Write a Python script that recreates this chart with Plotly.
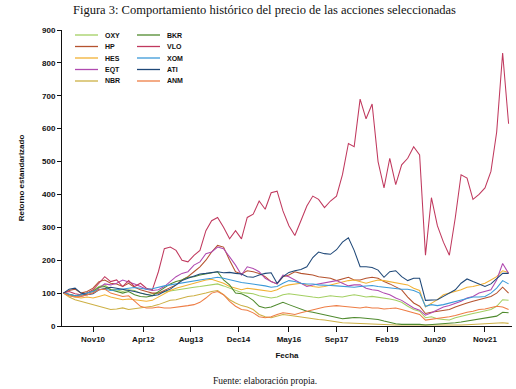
import pandas as pd
import plotly.graph_objects as go

# bimonthly observation dates, Jan 2010 .. Jul 2022
dates = pd.date_range("2010-01-01", periods=76, freq="2MS")

OXY = [100, 95, 90, 92, 100, 108, 120, 125, 112, 110, 105, 110, 108, 100, 95, 98, 100, 105, 108, 110,
       112, 115, 118, 120, 122, 125, 128, 122, 115, 108, 102, 100, 98, 92, 88, 85, 88, 95, 98, 95,
       92, 90, 88, 86, 88, 92, 90, 88, 92, 95, 92, 88, 90, 88, 85, 82, 78, 72, 60, 50,
       45, 25, 28, 22, 20, 18, 25, 30, 35, 38, 42, 45, 50, 60, 80, 78]
HP = [100, 108, 112, 100, 105, 115, 135, 140, 130, 128, 120, 130, 118, 110, 105, 100, 100, 108, 118, 125,
      140, 150, 165, 180, 200, 225, 245, 240, 200, 165, 158, 168, 165, 160, 150, 135, 128, 150, 155, 165,
      160, 158, 155, 150, 148, 145, 138, 142, 148, 140, 140, 145, 148, 145, 135, 128, 120, 110, 88, 70,
      60, 38, 42, 45, 48, 50, 58, 65, 70, 75, 80, 85, 90, 100, 118, 100]
HES = [100, 92, 88, 85, 88, 85, 90, 95, 88, 85, 80, 82, 80, 78, 75, 78, 88, 100, 108, 115,
       120, 125, 130, 135, 140, 142, 135, 130, 120, 115, 110, 115, 112, 110, 108, 105, 110, 120, 125, 128,
       130, 125, 120, 118, 120, 125, 130, 135, 138, 140, 135, 130, 135, 140, 138, 135, 133, 130, 125, 115,
       108, 58, 70, 80, 95, 100, 105, 110, 118, 120, 125, 130, 140, 150, 168, 163]
EQT = [100, 95, 92, 90, 95, 100, 115, 128, 125, 130, 140, 135, 128, 120, 112, 108, 110, 120, 135, 150,
       160, 165, 185, 195, 220, 225, 240, 235, 210, 185, 155, 180, 175, 165, 145, 135, 128, 155, 150, 140,
       130, 120, 125, 128, 132, 135, 138, 130, 122, 125, 125, 115, 110, 108, 100, 95, 85, 78, 65, 55,
       48, 33, 40, 50, 58, 62, 68, 75, 85, 90, 100, 105, 110, 140, 190, 160]
NBR = [100, 88, 80, 75, 70, 65, 62, 55, 50, 52, 55, 50, 52, 55, 58, 60, 65, 72, 78, 80,
       85, 90, 92, 95, 100, 105, 108, 95, 80, 70, 62, 58, 50, 35, 28, 25, 30, 35, 33, 30,
       28, 25, 22, 20, 18, 15, 12, 10, 9, 8, 8, 7, 6, 5, 4, 4, 3, 3, 3, 3,
       2, 1, 1, 1, 1, 1, 2, 3, 4, 5, 6, 7, 8, 9, 10, 8]
BKR = [100, 95, 92, 95, 100, 105, 118, 120, 110, 105, 100, 105, 95, 90, 88, 92, 105, 118, 128, 135,
       140, 148, 150, 155, 158, 162, 165, 140, 125, 100, 98, 90, 78, 60, 55, 58, 65, 72, 65, 58,
       50, 45, 42, 38, 35, 30, 25, 22, 24, 26, 25, 24, 22, 20, 15, 10, 7, 5, 5, 6,
       5, 3, 4, 5, 6, 8, 10, 12, 15, 18, 20, 22, 25, 30, 42, 40]
VLO = [100, 105, 98, 95, 100, 110, 130, 150, 135, 140, 120, 138, 120, 130, 115, 110, 165, 235, 240, 230,
       200, 195, 215, 230, 290, 320, 330, 300, 265, 290, 265, 330, 340, 380, 355, 405, 410, 350, 305, 275,
       320, 365, 395, 385, 360, 380, 395, 460, 555, 545, 690, 630, 675, 500, 420, 510, 430, 490, 510, 545,
       520, 215, 390, 305, 255, 215, 330, 460, 450, 385, 400, 420, 470, 590, 830, 615]
XOM = [100, 95, 92, 95, 100, 103, 110, 112, 108, 110, 113, 115, 117, 115, 112, 113, 118, 122, 125, 128,
       132, 135, 138, 140, 143, 145, 148, 145, 140, 135, 132, 130, 128, 125, 122, 118, 120, 130, 138, 135,
       130, 128, 128, 125, 125, 123, 122, 120, 120, 118, 120, 122, 123, 120, 118, 115, 113, 112, 112, 108,
       100, 60, 65, 62, 65, 70, 75, 80, 85, 88, 88, 90, 100, 115, 138, 128]
ATI = [100, 112, 115, 100, 95, 98, 110, 115, 118, 115, 112, 110, 105, 100, 95, 92, 95, 105, 112, 125,
       138, 145, 152, 158, 160, 163, 165, 162, 163, 160, 158, 150, 148, 155, 160, 162, 130, 150, 163, 168,
       172, 180, 208, 225, 220, 218, 232, 255, 268, 230, 180, 180, 178, 170, 148, 165, 168, 150, 138, 145,
       145, 78, 80, 80, 90, 100, 110, 130, 143, 135, 128, 120, 128, 145, 160, 160]
ANM = [100, 92, 88, 90, 95, 100, 110, 112, 100, 95, 90, 92, 75, 60, 55, 55, 58, 55, 55, 58,
       60, 62, 65, 72, 85, 100, 105, 95, 75, 60, 50, 48, 40, 28, 25, 28, 35, 40, 38, 35,
       40, 45, 50, 55, 58, 60, 62, 60, 58, 55, 55, 58, 55, 55, 52, 53, 55, 50, 45, 40,
       35, 18, 20, 22, 25, 28, 32, 38, 42, 45, 50, 52, 55, 60, 58, 50]

names = ["OXY", "HP", "HES", "EQT", "NBR", "BKR", "VLO", "XOM", "ATI", "ANM"]
series = [OXY, HP, HES, EQT, NBR, BKR, VLO, XOM, ATI, ANM]
colors = ["#a3cf62", "#b5532f", "#f2b134", "#b04ab0", "#cdb045",
          "#4f8a2e", "#c0395e", "#3b9ad9", "#1f4878", "#ee7d45"]

tick_dates = ["2010-11-01", "2012-04-01", "2013-08-01", "2014-12-01", "2016-05-01",
              "2017-09-01", "2019-02-01", "2020-06-01", "2021-11-01"]
tick_text = ["Nov10", "Apr12", "Aug13", "Dec14", "May16", "Sep17", "Feb19", "Jun20", "Nov21"]

W, H = 516, 389
ML, MR, MT, MB = 62, 4, 30, 63
PW, PH = W - ML - MR, H - MT - MB

fig = go.Figure()
for n, s, c in zip(names, series, colors):
    fig.add_trace(go.Scatter(x=dates, y=s, name=n, mode="lines",
                             line=dict(color=c, width=1.05), showlegend=False))

# compact two-column key (5 rows each), as in the original figure
shapes, annots = [], []
for i, (n, c) in enumerate(zip(names, colors)):
    col, row = divmod(i, 5)
    x0 = 75 + col * 62
    yy = 35 + row * 11.5
    shapes.append(dict(type="line", xref="paper", yref="paper",
                       x0=(x0 - ML) / PW, x1=(x0 + 23 - ML) / PW,
                       y0=(H - MB - yy) / PH, y1=(H - MB - yy) / PH,
                       line=dict(color=c, width=1.3)))
    annots.append(dict(text="<b>%s</b>" % n, xref="paper", yref="paper",
                       x=(x0 + 28 - ML) / PW, y=(H - MB - yy) / PH,
                       xanchor="left", yanchor="middle", showarrow=False,
                       font=dict(family="Liberation Sans", size=7, color="#111")))

bold = dict(family="Liberation Sans", size=8, color="#111")
annots += [
    dict(text="Figura 3: Comportamiento histórico del precio de las acciones seleccionadas",
         xref="paper", yref="paper", x=0.45, y=1.0, yshift=20, xanchor="center", yanchor="middle",
         showarrow=False, font=dict(family="Liberation Serif", size=12.5, color="#111")),
    dict(text="Fuente: elaboración propia.",
         xref="paper", yref="paper", x=0.45, y=0, yshift=-55, xanchor="center", yanchor="middle",
         showarrow=False, font=dict(family="Liberation Serif", size=9.5, color="#111")),
]

fig.update_layout(
    width=W, height=H,
    margin=dict(l=ML, r=MR, t=MT, b=MB),
    paper_bgcolor="white", plot_bgcolor="white",
    showlegend=False,
    xaxis=dict(range=["2009-12-18", "2022-08-05"], tickvals=tick_dates,
               ticktext=["<b>%s</b>" % t for t in tick_text],
               showgrid=False, zeroline=False, showline=True, linecolor="#111", linewidth=1,
               ticks="outside", ticklen=5, tickcolor="#111", tickfont=bold,
               title=dict(text="<b>Fecha</b>", font=bold, standoff=9)),
    yaxis=dict(range=[0, 900], tickvals=list(range(0, 1000, 100)),
               ticktext=["<b>%d</b>" % v for v in range(0, 1000, 100)],
               showgrid=False, zeroline=False, showline=True, linecolor="#111", linewidth=1,
               ticks="outside", ticklen=4, tickcolor="#111", tickfont=bold,
               title=dict(text="<b>Retorno estandarizado</b>", font=bold, standoff=16)),
    shapes=shapes,
    annotations=annots,
)
fig.write_html("out.html", config={"displayModeBar": False},
               post_script="document.body.style.margin='0';")
